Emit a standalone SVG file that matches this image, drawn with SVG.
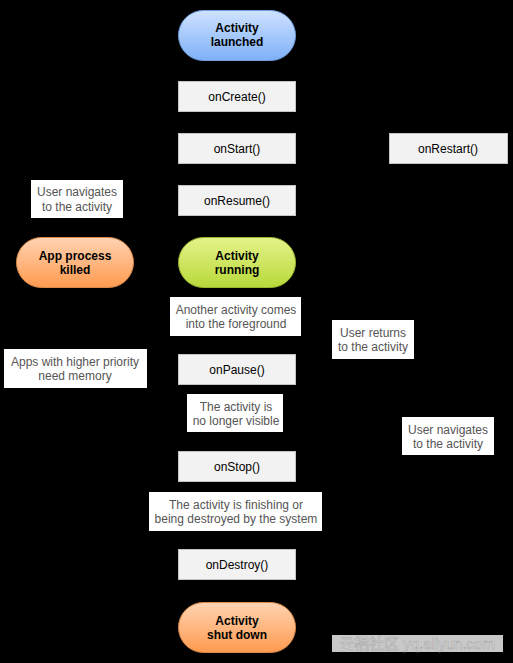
<svg xmlns="http://www.w3.org/2000/svg" width="513" height="663" viewBox="0 0 513 663">
<defs>
<linearGradient id="gBlue" x1="0" y1="0" x2="0" y2="1"><stop offset="0" stop-color="#cfe2ff"/><stop offset="1" stop-color="#7eb0f7"/></linearGradient>
<linearGradient id="gGreen" x1="0" y1="0" x2="0" y2="1"><stop offset="0" stop-color="#e6f28a"/><stop offset="1" stop-color="#b7d93a"/></linearGradient>
<linearGradient id="gOrange" x1="0" y1="0" x2="0" y2="1"><stop offset="0" stop-color="#ffd3b2"/><stop offset="1" stop-color="#ff9a4f"/></linearGradient>
<marker id="arr" viewBox="0 0 10 10" refX="9" refY="5" markerWidth="7" markerHeight="7" orient="auto"><path d="M0,0 L10,5 L0,10 z" fill="#000"/></marker>
<style>
.pill{stroke-width:1}
.m{fill:#f2f2f2;stroke:#c4c4c4;stroke-width:1}
.lb{fill:#ffffff}
.t{font-family:"Liberation Sans",Arial,sans-serif;font-size:12px;text-anchor:middle;fill:#000}
.tb{font-family:"Liberation Sans",Arial,sans-serif;font-size:12px;font-weight:bold;text-anchor:middle;fill:#000}
.tl{font-family:"Liberation Sans",Arial,sans-serif;font-size:12px;text-anchor:middle;fill:#555}
.c{fill:none;stroke:#000;stroke-width:1;marker-end:url(#arr)}
</style>
</defs>
<rect x="0" y="0" width="513" height="663" fill="#000"/>
<g id="connectors">
<path class="c" d="M237,60 V81"/>
<path class="c" d="M237,111 V133"/>
<path class="c" d="M237,163 V185"/>
<path class="c" d="M237,215 V237"/>
<path class="c" d="M237,288 V354"/>
<path class="c" d="M237,384 V451"/>
<path class="c" d="M237,482 V549"/>
<path class="c" d="M237,579 V602"/>
<path class="c" d="M389,148 H296"/>
<path class="c" d="M296,369 H373 V200 H296"/>
<path class="c" d="M296,466 H448 V163"/>
<path class="c" d="M178,369 H75 V288"/>
<path class="c" d="M178,466 H75 V369"/>
<path class="c" d="M75,237 V96 H178"/>
</g>
<g id="launched"><rect class="pill" x="178.5" y="10.5" width="117" height="50" rx="25" fill="url(#gBlue)" stroke="#6f9fe0"/><text class="tb" x="237" y="32">Activity</text><text class="tb" x="237" y="46">launched</text></g>
<g id="onCreate"><rect class="m" x="178.5" y="81.5" width="117" height="30"/><text class="t" x="237" y="101">onCreate()</text></g>
<g id="onStart"><rect class="m" x="178.5" y="133.5" width="117" height="30"/><text class="t" x="237" y="153">onStart()</text></g>
<g id="onRestart"><rect class="m" x="389.5" y="133.5" width="118" height="30"/><text class="t" x="448" y="153">onRestart()</text></g>
<g id="onResume"><rect class="m" x="178.5" y="185.5" width="117" height="30"/><text class="t" x="237" y="205">onResume()</text></g>
<g id="lblNavLeft"><rect class="lb" x="31" y="180" width="92" height="38"/><text class="tl" x="77" y="196">User navigates</text><text class="tl" x="77" y="211">to the activity</text></g>
<g id="killed"><rect class="pill" x="16.5" y="237.5" width="117" height="50" rx="25" fill="url(#gOrange)" stroke="#d98a4a"/><text class="tb" x="75" y="260">App process</text><text class="tb" x="75" y="274">killed</text></g>
<g id="running"><rect class="pill" x="178.5" y="237.5" width="117" height="50" rx="25" fill="url(#gGreen)" stroke="#9cb82e"/><text class="tb" x="237" y="260">Activity</text><text class="tb" x="237" y="274">running</text></g>
<g id="lblAnother"><rect class="lb" x="170" y="297" width="131" height="39"/><text class="tl" x="236" y="314">Another activity comes</text><text class="tl" x="236" y="328">into the foreground</text></g>
<g id="lblReturns"><rect class="lb" x="332" y="320" width="82" height="39"/><text class="tl" x="373" y="337">User returns</text><text class="tl" x="373" y="351">to the activity</text></g>
<g id="lblMemory"><rect class="lb" x="4" y="349" width="143" height="39"/><text class="tl" x="75" y="366">Apps with higher priority</text><text class="tl" x="75" y="380">need memory</text></g>
<g id="onPause"><rect class="m" x="178.5" y="354.5" width="117" height="30"/><text class="t" x="237" y="374">onPause()</text></g>
<g id="lblInvisible"><rect class="lb" x="187" y="394" width="96" height="38"/><text class="tl" x="236" y="411">The activity is</text><text class="tl" x="236" y="425">no longer visible</text></g>
<g id="lblNavRight"><rect class="lb" x="402" y="417" width="92" height="38"/><text class="tl" x="448" y="434">User navigates</text><text class="tl" x="448" y="448">to the activity</text></g>
<g id="onStop"><rect class="m" x="178.5" y="451.5" width="117" height="30"/><text class="t" x="237" y="471">onStop()</text></g>
<g id="lblFinishing"><rect class="lb" x="149" y="492" width="173" height="39"/><text class="tl" x="236" y="509">The activity is finishing or</text><text class="tl" x="236" y="523">being destroyed by the system</text></g>
<g id="onDestroy"><rect class="m" x="178.5" y="549.5" width="117" height="30"/><text class="t" x="237" y="569">onDestroy()</text></g>
<g id="shutdown"><rect class="pill" x="178.5" y="602.5" width="117" height="50" rx="25" fill="url(#gOrange)" stroke="#d98a4a"/><text class="tb" x="237" y="625">Activity</text><text class="tb" x="237" y="639">shut down</text></g>
<g id="watermark"><rect x="332" y="635" width="171" height="17" fill="#c8c8c8"/><text x="417" y="649" font-family="'Liberation Sans','Noto Sans CJK SC',sans-serif" font-size="15" text-anchor="middle" fill="#e4e4e4" stroke="#a8a8a8" stroke-width="0.6">云栖社区 yq.aliyun.com</text></g>
</svg>
